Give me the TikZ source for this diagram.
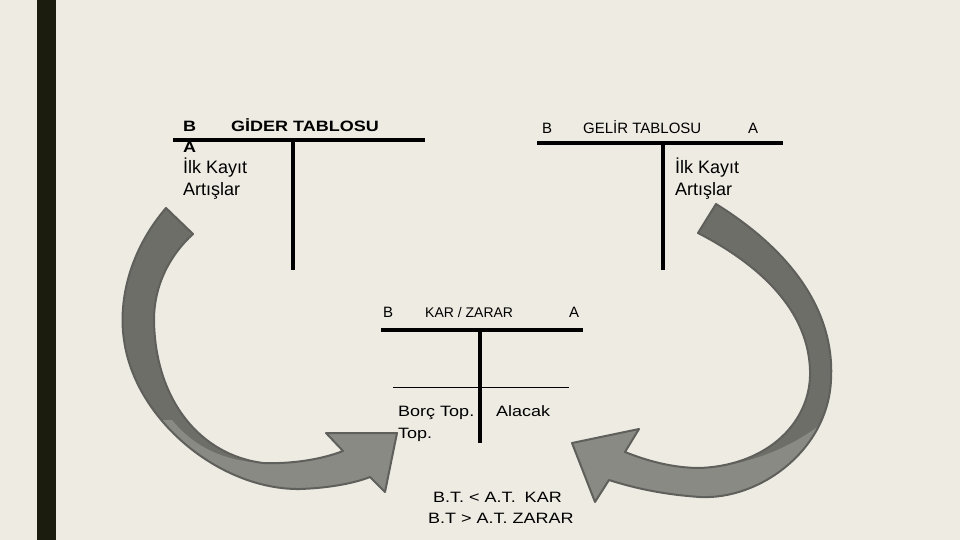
\documentclass[tikz,border=0pt]{standalone}
\usepackage{fontspec}
\setmainfont{Liberation Sans}
\newfontfamily\widefont[FakeStretch=1.2]{Liberation Sans}
\usetikzlibrary{positioning}
\definecolor{slide}{HTML}{EEEBE3}
\definecolor{sidebar}{HTML}{1B1B0E}
\definecolor{arrdark}{HTML}{6E6E69}
\definecolor{arrlight}{HTML}{8A8A84}
\definecolor{arredge}{HTML}{5F5F5B}
% curved arrows (outline, and the part that is shaded lighter)
\newcommand{\leftarrpath}{(166,208) .. controls (130,250) and (118,300) .. (124,340)
  .. controls (135,420) and (220,490) .. (300,489) .. controls (330,488) and (355,483) .. (370,477)
  -- (385,492) -- (397,433) -- (326,433) -- (343,451)
  .. controls (320,460) and (290,464) .. (263,463) .. controls (200,455) and (155,400) .. (154,320)
  .. controls (154,285) and (170,255) .. (193,234) -- cycle}
\newcommand{\leftarrlow}{(100,420) -- (172,420) .. controls (195,448) and (225,461) .. (263,463)
  -- (420,380) -- (420,520) -- (100,520) -- cycle}
\newcommand{\rightarrpath}{(716,204) .. controls (790,250) and (835,310) .. (831,380)
  .. controls (828,450) and (760,500) .. (700,497) .. controls (670,495) and (640,490) .. (609,480)
  -- (595,502) -- (572,443) -- (639,429) -- (625,452)
  .. controls (650,462) and (675,468) .. (700,468) .. controls (770,465) and (812,420) .. (810,370)
  .. controls (808,310) and (760,265) .. (698,233) -- cycle}
\newcommand{\rightarrlow}{(860,422) -- (824,422) .. controls (788,450) and (745,466) .. (700,468)
  -- (560,380) -- (560,520) -- (860,520) -- cycle}

\begin{document}
\begin{tikzpicture}[x=1pt,y=-1pt,
  txt/.style={anchor=base west,inner sep=0pt,font=\fontsize{18}{20}\selectfont},
  wtxt/.style={anchor=base west,inner sep=0pt,font=\widefont\fontsize{15}{18}\selectfont},
  hdr/.style={anchor=base west,inner sep=0pt,font=\fontsize{15}{18}\selectfont},
  tline/.style={line width=4pt},
  arr/.style={draw=arredge,line width=2pt,line join=round}]
  \useasboundingbox (0,0) rectangle (960,540);
  \fill[slide] (0,0) rectangle (960,540);
  \fill[sidebar] (37,0) rectangle (56,540);

  % arrows
  \fill[arrdark] \leftarrpath;
  \begin{scope}
    \clip \leftarrpath;
    \fill[arrlight] \leftarrlow;
  \end{scope}
  \draw[arr] \leftarrpath;
  \fill[arrdark] \rightarrpath;
  \begin{scope}
    \clip \rightarrpath;
    \fill[arrlight] \rightarrlow;
  \end{scope}
  \draw[arr] \rightarrpath;

  % gider tablosu
  \draw[tline] (173,140) -- (425,140);
  \draw[tline] (293,140) -- (293,270);
  \node[wtxt,font=\widefont\bfseries\fontsize{15}{18}\selectfont] (giderB) at (183,132) {B};
  \node[wtxt,font=\widefont\bfseries\fontsize{15}{18}\selectfont] (giderT) at (231,132) {GİDER TABLOSU};
  \node[wtxt,font=\widefont\bfseries\fontsize{15}{18}\selectfont] (giderA) at (183,153) {A};
  \node[txt] (giderI) at (183,174) {İlk Kayıt};
  \node[txt] (giderR) at (183,195) {Artışlar};

  % gelir tablosu
  \draw[tline] (537,143) -- (783,143);
  \draw[tline] (663,143) -- (663,270);
  \node[hdr] (gelirB) at (542,134) {B};
  \node[hdr] (gelirT) at (583,134) {GELİR TABLOSU};
  \node[hdr] (gelirA) at (748,134) {A};
  \node[txt] (gelirI) at (675,174) {İlk Kayıt};
  \node[txt] (gelirR) at (675,195) {Artışlar};

  % kar / zarar
  \draw[tline] (381,330) -- (583,330);
  \draw[tline] (480,330) -- (480,443);
  \draw[line width=1pt] (393,387) -- (569,387);
  \node[hdr] (karB) at (383,317) {B};
  \node[hdr,font=\fontsize{14}{17}\selectfont] (karT) at (425,317) {KAR / ZARAR};
  \node[hdr] (karA) at (569,317) {A};
  \node[wtxt] (borc) at (398,416) {Borç Top.};
  \node[wtxt] (borc2) at (398,438) {Top.};
  \node[wtxt] (alacak) at (496,416) {Alacak};
  \node[wtxt] (sonuc1) at (433,502) {B.T. < A.T.\hspace{9pt}KAR};
  \node[wtxt] (sonuc2) at (428,523) {B.T > A.T. ZARAR};
\end{tikzpicture}
\end{document}
